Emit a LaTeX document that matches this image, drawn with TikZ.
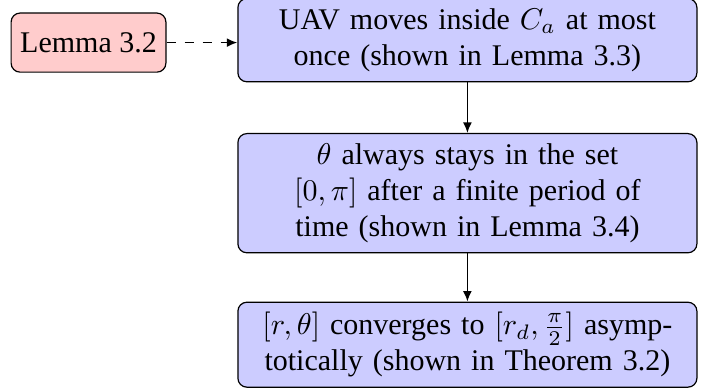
\documentclass[tikz,border=0pt]{standalone}
\usepackage{fontspec}
\setmainfont{LiberationSerif-Regular.ttf}[ItalicFont=LiberationSerif-Italic.ttf, BoldFont=LiberationSerif-Bold.ttf]
\usetikzlibrary{arrows.meta}
\tikzset{
  bluebox/.style={draw=black, fill=blue!20, rounded corners=3pt, text width=146pt, align=center, inner sep=3.33pt, minimum width=153pt},
  redbox/.style={draw=black, fill=red!20, rounded corners=3pt, align=center, inner sep=2pt, minimum width=51.6pt, minimum height=19.7pt},
  conn/.style={-{Latex[length=3.5pt,width=3pt]}, semithick}
}
\begin{document}
\begin{tikzpicture}[x=1pt,y=1pt]
\useasboundingbox (0,0) rectangle (238.33,-130.33);
\node[bluebox, minimum height=25.5pt] (b1) at (155.8,-13.4) {UAV moves inside $C_a$ at most\\ once (shown in Lemma 3.3)};
\node[bluebox, minimum height=38.7pt] (b2) at (155.8,-64.4) {$\theta$ always stays in the set\\ $[0,\pi]$ after a finite period of\\ time (shown in Lemma 3.4)};
\node[bluebox, minimum height=27.7pt] (b3) at (155.8,-114.9) {$[r,\theta]$ converges to $[r_d,\frac{\pi}{2}]$ asymp-\\totically (shown in Theorem 3.2)};
\node[redbox] (l) at (29.5,-14.2) {Lemma 3.2};
\draw[conn, dashed] (l.east) -- (l.east -| b1.west);
\draw[conn] (b1) -- (b2);
\draw[conn] (b2) -- (b3);
\end{tikzpicture}
\end{document}
